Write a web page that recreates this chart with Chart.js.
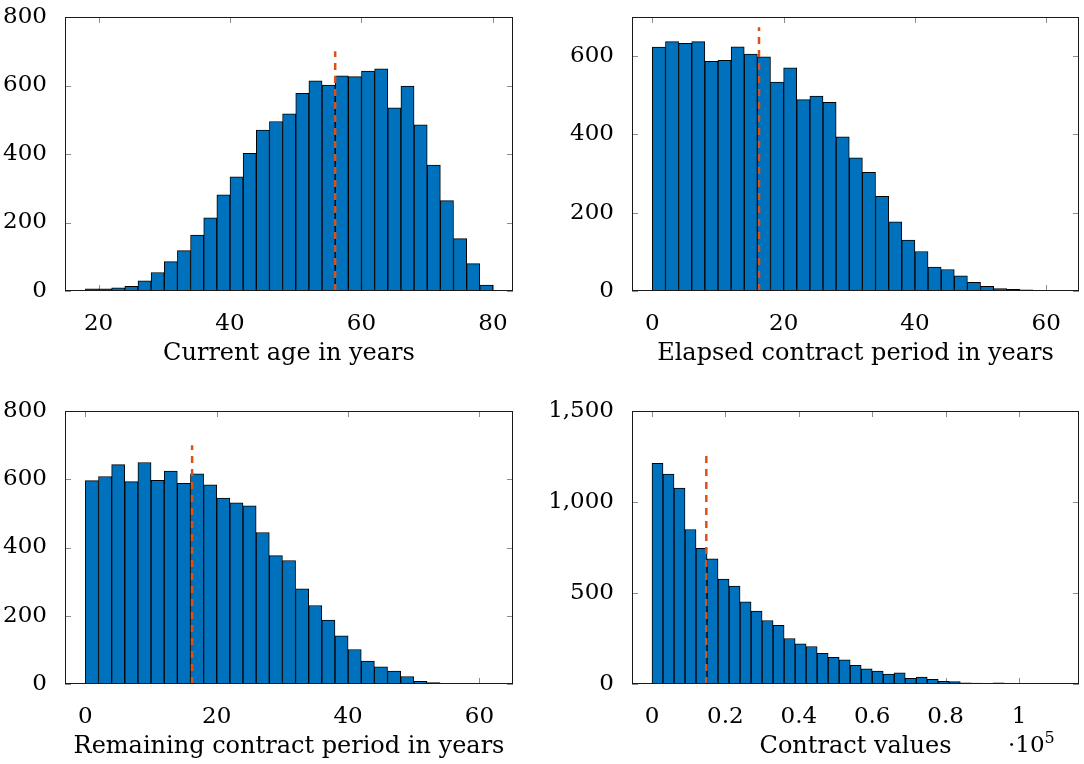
<!DOCTYPE html>
<html>
<head>
<meta charset="utf-8">
<script src="https://cdn.jsdelivr.net/npm/chart.js@4.4.1/dist/chart.umd.min.js"></script>
<style>
  body { margin: 0; background: #fff; width: 1084px; height: 764px; position: relative; overflow: hidden; }
  .panel { position: absolute; }
  #exp { position: absolute; left: 1008px; top: 728px; font: 23px "DejaVu Serif", serif; color: #000; }
  #exp sup { font-size: 16px; }
</style>
</head>
<body>
<div class="panel" style="left:0;top:0"><canvas id="c1" width="542" height="385"></canvas></div>
<div class="panel" style="left:542px;top:0"><canvas id="c2" width="542" height="385"></canvas></div>
<div class="panel" style="left:0;top:385px"><canvas id="c3" width="542" height="379"></canvas></div>
<div class="panel" style="left:542px;top:385px"><canvas id="c4" width="542" height="379"></canvas></div>
<div id="exp">·10<sup>5</sup></div>
<script>
// Histogram bins (centres) and counts
const ageBins = [19, 21, 23, 25, 27, 29, 31, 33, 35, 37, 39, 41, 43, 45, 47, 49, 51, 53, 55, 57, 59, 61, 63, 65, 67, 69, 71, 73, 75, 77, 79];
const ageCounts = [6, 6, 9, 14, 30, 54, 86, 118, 163, 214, 281, 333, 402, 470, 495, 517, 577, 614, 601, 628, 626, 642, 649, 535, 598, 485, 368, 264, 153, 80, 17];
const ageMean = 56;
const ageLineTop = 700;

const elapsedBins = [1, 3, 5, 7, 9, 11, 13, 15, 17, 19, 21, 23, 25, 27, 29, 31, 33, 35, 37, 39, 41, 43, 45, 47, 49, 51, 53, 55, 57, 59, 61];
const elapsedCounts = [623, 637, 633, 637, 587, 589, 624, 605, 598, 534, 570, 489, 498, 482, 394, 340, 303, 242, 177, 130, 101, 61, 55, 39, 22, 12, 6, 4, 3, 2, 1];
const elapsedMean = 16.25;
const elapsedLineTop = 674;

const remainingBins = [1, 3, 5, 7, 9, 11, 13, 15, 17, 19, 21, 23, 25, 27, 29, 31, 33, 35, 37, 39, 41, 43, 45, 47, 49, 51, 53, 55, 57, 59, 61];
const remainingCounts = [596, 608, 643, 593, 649, 597, 624, 588, 616, 584, 545, 531, 522, 444, 376, 362, 279, 230, 187, 141, 101, 67, 50, 38, 22, 8, 4, 2, 1, 1, 2];
const remainingMean = 16.25;
const remainingLineTop = 700;

const valueBins = [0.015, 0.045, 0.075, 0.105, 0.135, 0.165, 0.195, 0.225, 0.255, 0.285, 0.315, 0.345, 0.375, 0.405, 0.435, 0.465, 0.495, 0.525, 0.555, 0.585, 0.615, 0.645, 0.675, 0.705, 0.735, 0.765, 0.795, 0.825, 0.855, 0.885, 0.915, 0.945, 0.975, 1.005, 1.035, 1.065, 1.095];
const valueCounts = [1212, 1153, 1077, 849, 745, 688, 577, 538, 451, 401, 349, 323, 250, 221, 206, 168, 146, 133, 102, 84, 71, 55, 62, 31, 38, 26, 15, 13, 7, 5, 4, 7, 4, 3, 2, 2, 2];
const valueMean = 0.148;
const valueLineTop = 1266;

Chart.defaults.font.family = '"DejaVu Serif", serif';
Chart.defaults.font.size = 23;
Chart.defaults.color = '#000';

// frame with inward tick marks on all four sides
const frame = {
  id: 'frame',
  beforeDatasetsDraw(chart) {
    const { ctx, chartArea: a, scales: { x, y } } = chart;
    ctx.save();
    ctx.strokeStyle = '#8c8c8c';
    ctx.lineWidth = 1;
    ctx.beginPath();
    x.ticks.forEach(t => {
      const px = Math.round(x.getPixelForValue(t.value)) + 0.5;
      ctx.moveTo(px, a.top); ctx.lineTo(px, a.top + 6);
      ctx.moveTo(px, a.bottom); ctx.lineTo(px, a.bottom - 6);
    });
    y.ticks.forEach(t => {
      const py = Math.round(y.getPixelForValue(t.value)) + 0.5;
      ctx.moveTo(a.left, py); ctx.lineTo(a.left + 6, py);
      ctx.moveTo(a.right, py); ctx.lineTo(a.right - 6, py);
    });
    ctx.stroke();
    ctx.restore();
  },
  afterDatasetsDraw(chart) {
    const { ctx, chartArea: a } = chart;
    ctx.save();
    ctx.strokeStyle = '#1a1a1a';
    ctx.lineWidth = 1;
    ctx.strokeRect(a.left + 0.5, a.top + 0.5, a.right - a.left - 1, a.bottom - a.top - 1);
    ctx.restore();
  }
};

function makeHist(id, bins, counts, mean, lineTop, cfg) {
  new Chart(document.getElementById(id), {
    type: 'bar',
    data: {
      datasets: [
        {
          type: 'line',
          data: [{ x: mean, y: 0 }, { x: mean, y: lineTop }],
          borderColor: '#D95319',
          borderWidth: 2.5,
          borderDash: [7, 6],
          pointRadius: 0,
          fill: false,
          order: 0
        },
        {
          data: bins.map((b, i) => ({ x: b, y: counts[i] })),
          backgroundColor: '#0072BD',
          borderColor: '#000',
          borderWidth: 1,
          barPercentage: 1,
          categoryPercentage: 1,
          order: 1
        }
      ]
    },
    options: {
      responsive: false,
      animation: false,
      layout: { padding: { top: cfg.top, right: cfg.right, left: 0, bottom: 0 } },
      plugins: { legend: { display: false }, tooltip: { enabled: false } },
      scales: {
        x: {
          type: 'linear',
          offset: false,
          min: cfg.xmin,
          max: cfg.xmax,
          grid: { display: false },
          border: { display: false },
          afterFit: s => { s.height = cfg.xh; s.paddingLeft = 0; s.paddingRight = 0; },
          ticks: {
            stepSize: cfg.xstep,
            includeBounds: false,
            padding: 11,
            maxRotation: 0,
            callback: v => String(Number(v.toFixed(2)))
          },
          title: { display: true, text: cfg.title, font: { size: 24 }, padding: { top: 0, bottom: cfg.titlePad } }
        },
        y: {
          min: 0,
          max: cfg.ymax,
          grid: { display: false },
          border: { display: false },
          afterFit: s => { s.width = cfg.yw; s.paddingTop = 0; s.paddingBottom = 0; },
          ticks: {
            stepSize: cfg.ystep,
            includeBounds: false,
            padding: 10,
            callback: v => v.toLocaleString('en-US')
          }
        }
      }
    },
    plugins: [frame]
  });
}

makeHist('c1', ageBins, ageCounts, ageMean, ageLineTop,
  { top: 17, right: 29, yw: 65, xh: 94, xmin: 14.9, xmax: 83.05, xstep: 20, ymax: 800, ystep: 200, title: 'Current age in years', titlePad: 17 });
makeHist('c2', elapsedBins, elapsedCounts, elapsedMean, elapsedLineTop,
  { top: 17, right: 5, yw: 90, xh: 94, xmin: -3.1, xmax: 65.0, xstep: 20, ymax: 700, ystep: 200, title: 'Elapsed contract period in years', titlePad: 17 });
makeHist('c3', remainingBins, remainingCounts, remainingMean, remainingLineTop,
  { top: 26, right: 29, yw: 65, xh: 80, xmin: -3.1, xmax: 65.1, xstep: 20, ymax: 800, ystep: 200, title: 'Remaining contract period in years', titlePad: 3 });
makeHist('c4', valueBins, valueCounts, valueMean, valueLineTop,
  { top: 26, right: 5, yw: 90, xh: 80, xmin: -0.0545, xmax: 1.1636, xstep: 0.2, ymax: 1500, ystep: 500, title: 'Contract values', titlePad: 3 });
</script>
</body>
</html>
